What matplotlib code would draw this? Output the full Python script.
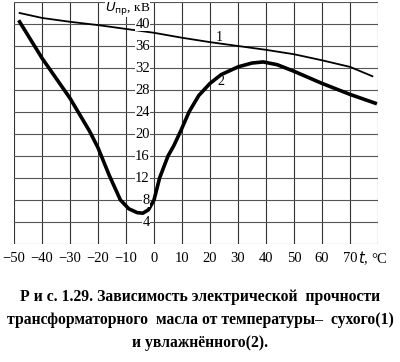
import matplotlib.pyplot as plt

# curve 1: dry oil
t_dry = [-48, -40, -30, -20, -10, 0, 10, 20, 30, 40, 50, 60, 70, 78]
u_dry = [42.0, 41.1, 40.4, 39.8, 39.1, 38.4, 37.5, 36.7, 36.0, 35.3, 34.5, 33.4, 32.2, 30.5]

# curve 2: wet oil
t_wet = [-48, -40, -30, -23, -20, -16, -12, -9, -6, -4, -2, 0, 2, 5, 7, 9.5,
         12.5, 16, 20, 24, 30, 35, 39, 44, 50, 60, 70, 79]
u_wet = [40.4, 33.8, 26.5, 20.5, 17.5, 12.5, 8.0, 6.4, 5.7, 5.6, 6.2, 8.0, 12.0,
         16.0, 17.8, 20.5, 24.0, 27.0, 29.2, 30.8, 32.2, 32.9, 33.1, 32.6, 31.4,
         29.2, 27.2, 25.6]

x_ticks = [-50, -40, -30, -20, -10, 0, 10, 20, 30, 40, 50, 60, 70]
y_ticks = [4, 8, 12, 16, 20, 24, 28, 32, 36, 40]

caption = ("Р и с. 1.29. Зависимость электрической  прочности\n"
           "трансформаторного  масла от температуры–  сухого(1)\n"
           "и увлажнённого(2).")

plt.rcParams['font.family'] = ['Liberation Serif', 'DejaVu Serif']

fig = plt.figure(figsize=(4.0, 3.62), dpi=100)
ax = fig.add_axes([0.035, 0.326, 0.91, 0.6685])
ax.set_xlim(-50, 80)
ax.set_ylim(0, 44)

for x in range(-50, 81, 10):
    ax.axvline(x, color='#333333', lw=0.8, zorder=1)
for y in range(0, 45, 4):
    ax.axhline(y, color='#555555', lw=0.8, zorder=1)

ax.plot(t_dry, u_dry, color='black', lw=1.3, zorder=3)
ax.plot(t_wet, u_wet, color='black', lw=2.6, zorder=3, solid_joinstyle='round')

ax.text(23.2, 37.6, '1', fontsize=10, ha='center', va='center', zorder=4)
ax.text(23.8, 29.6, '2', fontsize=10, ha='center', va='center', zorder=4)

for y in y_ticks:
    ax.annotate(str(y), (0, y), xytext=(-3, -0.5), textcoords='offset points',
                ha='right', va='center', fontsize=10.5, zorder=6,
                bbox=dict(facecolor='white', edgecolor='none', pad=0.1))

ax.annotate(r'$U_{\mathrm{пр}}$, кВ', (0, 44.3), xytext=(-3, 0),
            textcoords='offset points', ha='right', va='top', fontsize=9.5,
            zorder=5, annotation_clip=False,
            bbox=dict(facecolor='white', edgecolor='none', pad=0.0))

ax.set_xticks(x_ticks)
ax.set_xticklabels(['\u221250', '\u221240', '\u221230', '\u221220', '\u221210',
                    '0', '10', '20', '30', '40', '50', '60', '70'])
ax.set_yticks([])
ax.tick_params(axis='x', length=0, pad=6, labelsize=10.5)
ax.text(73, -2.6, r'$t$, °C', fontsize=10.5, ha='left', va='center')

for s in ax.spines.values():
    s.set_visible(False)

fig.text(0.5, 0.116, caption, ha='center', va='center', fontsize=11.3,
         fontweight='bold', linespacing=1.58)

fig.savefig('out.png', dpi=100)
